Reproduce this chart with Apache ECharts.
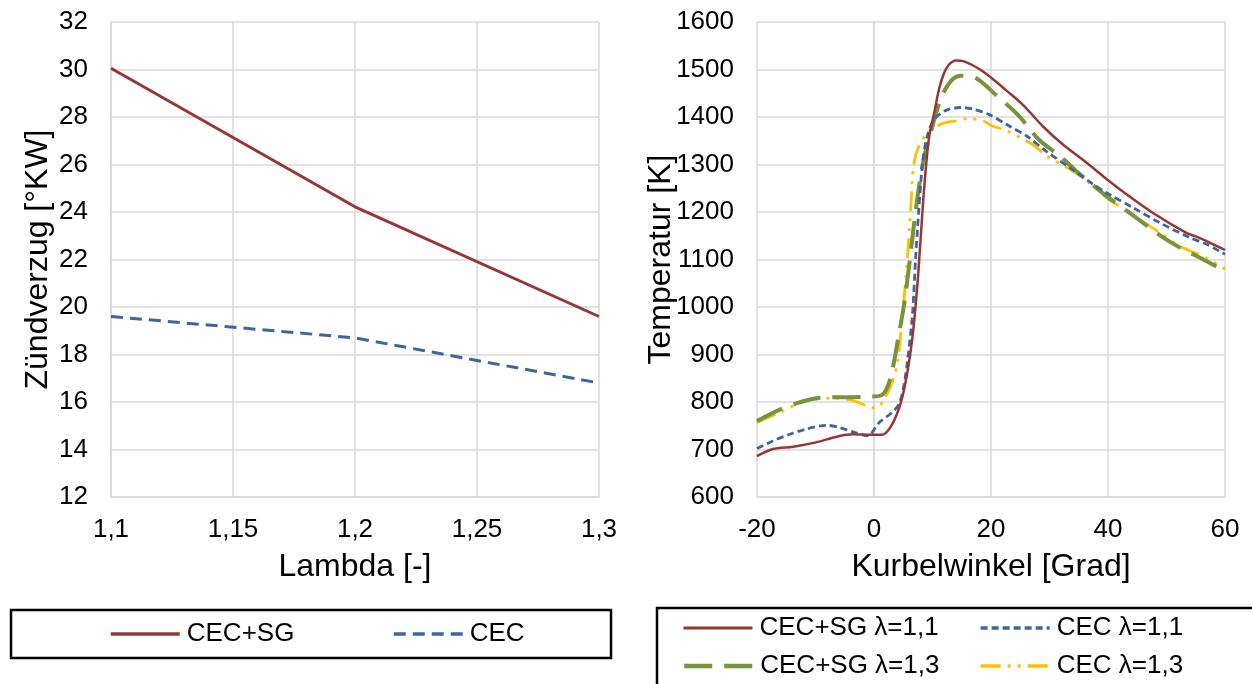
<!DOCTYPE html>
<html>
<head>
<meta charset="utf-8">
<script src="https://cdn.jsdelivr.net/npm/echarts@6/dist/echarts.min.js"></script>
<style>
html,body{margin:0;padding:0;background:#fff;}
#c{width:1252px;height:684px;}
</style>
</head>
<body>
<div id="c"></div>
<script>
// ---- Left chart data ----
const lambdaValues = [1.1, 1.2, 1.3];
const delaySG = [30.05, 24.22, 19.6];
const delayCEC = [19.6, 18.7, 16.8];

// ---- Right chart data: [crank angle, temperature] ----
const tempSG11 = [[-20,686],[-17.3,701],[-13.8,706],[-9.9,715],[-6.4,727],[-3.6,732],[-0.5,731],[1.4,731],[3.1,753],[4.6,799],[5.7,862],[6.6,939],[7.4,1044],[8.0,1149],[8.6,1254],[9.4,1356],[10.3,1409],[11.1,1458],[12.0,1493],[12.8,1510],[14.0,1519],[15.4,1517],[18.0,1501],[20.2,1481],[22.7,1455],[25.5,1425],[28.9,1380],[32.3,1342],[36.3,1304],[39.8,1269],[43.2,1237],[47.7,1198],[53.4,1156],[55.1,1148],[58.0,1132],[60,1120]];
const tempCEC11 = [[-20,702],[-17.3,718],[-14.4,732],[-11.6,743],[-8.1,751],[-5.9,746],[-3.6,737],[-1.1,729],[0.9,757],[3.1,778],[4.3,796],[5.1,834],[5.9,904],[6.6,988],[7.1,1100],[7.7,1212],[8.3,1303],[9.1,1360],[10.3,1395],[12.3,1414],[14.8,1420],[16.8,1417],[19.7,1405],[23.1,1381],[26.1,1360],[29.4,1328],[33.5,1293],[37.5,1258],[39.8,1240],[44.3,1209],[48.9,1177],[54.0,1146],[56.9,1132],[60,1111]];
const tempSG13 = [[-20,760],[-16.1,784],[-13.3,797],[-10.4,807],[-7.6,810],[-4.2,810],[-1.1,811],[1.4,815],[2.8,850],[4.3,946],[5.1,1002],[6.0,1086],[6.8,1170],[7.7,1254],[8.6,1317],[9.7,1367],[10.8,1416],[12.0,1454],[13.4,1479],[14.8,1487],[17.4,1482],[20.8,1447],[24.8,1402],[28.3,1351],[31.8,1318],[34.6,1286],[39.8,1233],[43.7,1198],[48.9,1151],[52.3,1125],[56.3,1100],[60,1075]];
const tempCEC13 = [[-20,757],[-16.1,778],[-11.6,803],[-7.0,808],[-3.6,803],[-0.7,789],[0.4,787],[1.4,799],[2.9,834],[4.0,883],[4.8,974],[5.7,1100],[6.3,1212],[6.8,1300],[7.7,1339],[9.4,1370],[11.7,1386],[14.0,1392],[16.2,1397],[18.8,1391],[20.2,1381],[22.5,1372],[27.1,1342],[29.5,1318],[33.5,1290],[37.5,1255],[39.8,1230],[44.3,1193],[48.9,1156],[52.3,1128],[56.9,1103],[60,1080]];

const names = ['CEC+SG', 'CEC', 'CEC+SG λ=1,1', 'CEC λ=1,1', 'CEC+SG λ=1,3', 'CEC λ=1,3'];

const FONT = '"Liberation Sans", Arial, sans-serif';
const GRID = '#d9d9d9';
const RED = '#953735', BLUE = '#3d679c', GREEN = '#77933c', YELLOW = '#ffc000';

const STYLE = {
  sg: {color: RED, width: 3, type: 'solid'},
  cec: {color: BLUE, width: 3, type: [12, 7]},
  sg11: {color: RED, width: 2.5, type: 'solid'},
  cec11: {color: BLUE, width: 2.8, type: [7, 4]},
  sg13: {color: GREEN, width: 4, type: [28, 12]},
  cec13: {color: YELLOW, width: 2.8, type: [20, 7, 3, 7, 3, 7]}
};

const zip = (xs, ys) => xs.map((x, i) => [x, ys[i]]);

function valueAxis(extra, labelExtra) {
  return Object.assign({
    type: 'value',
    axisLine: {show: true, lineStyle: {color: GRID, width: 1.5}},
    axisTick: {show: false},
    splitLine: {show: true, lineStyle: {color: GRID, width: 1.5}},
    axisLabel: Object.assign({color: '#000', fontFamily: FONT, fontSize: 26, lineHeight: 26,
      formatter: v => String(v)}, labelExtra),
    nameTextStyle: {color: '#000', fontFamily: FONT, fontSize: 32, lineHeight: 32},
    nameLocation: 'middle',
    nameMoveOverlap: false
  }, extra);
}

function leg(name, left, top, ls) {
  return {
    data: [name], left: left, top: top, padding: 0,
    itemWidth: 69, itemHeight: 14, itemGap: 0,
    itemStyle: {opacity: 0},
    lineStyle: {color: ls.color, width: ls.width + 0.5, type: ls.type, opacity: 1},
    textStyle: {color: '#000', fontFamily: FONT, fontSize: 26, lineHeight: 26, padding: [0, 0, 0, 2]},
    selectedMode: false
  };
}

const chart = echarts.init(document.getElementById('c'), null, {renderer: 'canvas'});
chart.setOption({
  backgroundColor: '#fff',
  animation: false,
  grid: [
    {left: 111, right: 653, top: 22, bottom: 187},
    {left: 757, right: 27, top: 22, bottom: 187}
  ],
  xAxis: [
    valueAxis({gridIndex: 0, min: 1.1, max: 1.3, interval: 0.05, name: 'Lambda [-]', nameGap: 54},
      {margin: 20, formatter: v => String(+(+v).toFixed(2)).replace('.', ',')}),
    valueAxis({gridIndex: 1, min: -20, max: 60, interval: 20, name: 'Kurbelwinkel [Grad]', nameGap: 54},
      {margin: 20})
  ],
  yAxis: [
    valueAxis({gridIndex: 0, min: 12, max: 32, interval: 2, name: 'Zündverzug [°KW]', nameGap: 57},
      {margin: 23}),
    valueAxis({gridIndex: 1, min: 600, max: 1600, interval: 100, name: 'Temperatur [K]', nameGap: 80},
      {margin: 23})
  ],
  legend: [
    leg(names[0], 109, 621, STYLE.sg),
    leg(names[1], 392, 621, STYLE.cec),
    leg(names[2], 682, 615, STYLE.sg11),
    leg(names[3], 979, 615, STYLE.cec11),
    leg(names[4], 682, 653, STYLE.sg13),
    leg(names[5], 979, 653, STYLE.cec13)
  ],
  graphic: [
    {type: 'rect', shape: {x: 11, y: 610, width: 600, height: 48}, style: {fill: 'none', stroke: '#000', lineWidth: 2.5}, z: 10},
    {type: 'rect', shape: {x: 657, y: 608, width: 640, height: 120}, style: {fill: 'none', stroke: '#000', lineWidth: 2.5}, z: 10}
  ],
  series: [
    {name: names[0], type: 'line', xAxisIndex: 0, yAxisIndex: 0, symbol: 'none',
      data: zip(lambdaValues, delaySG), lineStyle: STYLE.sg, itemStyle: {color: RED}},
    {name: names[1], type: 'line', xAxisIndex: 0, yAxisIndex: 0, symbol: 'none',
      data: zip(lambdaValues, delayCEC), lineStyle: STYLE.cec, itemStyle: {color: BLUE}},
    {name: names[2], type: 'line', xAxisIndex: 1, yAxisIndex: 1, symbol: 'none', smooth: 0.3,
      data: tempSG11, lineStyle: STYLE.sg11, itemStyle: {color: RED}, z: 5},
    {name: names[3], type: 'line', xAxisIndex: 1, yAxisIndex: 1, symbol: 'none', smooth: 0.3,
      data: tempCEC11, lineStyle: STYLE.cec11, itemStyle: {color: BLUE}, z: 4},
    {name: names[4], type: 'line', xAxisIndex: 1, yAxisIndex: 1, symbol: 'none', smooth: 0.3,
      data: tempSG13, lineStyle: STYLE.sg13, itemStyle: {color: GREEN}, z: 3},
    {name: names[5], type: 'line', xAxisIndex: 1, yAxisIndex: 1, symbol: 'none', smooth: 0.3,
      data: tempCEC13, lineStyle: STYLE.cec13, itemStyle: {color: YELLOW}, z: 2}
  ]
});
</script>
</body>
</html>
